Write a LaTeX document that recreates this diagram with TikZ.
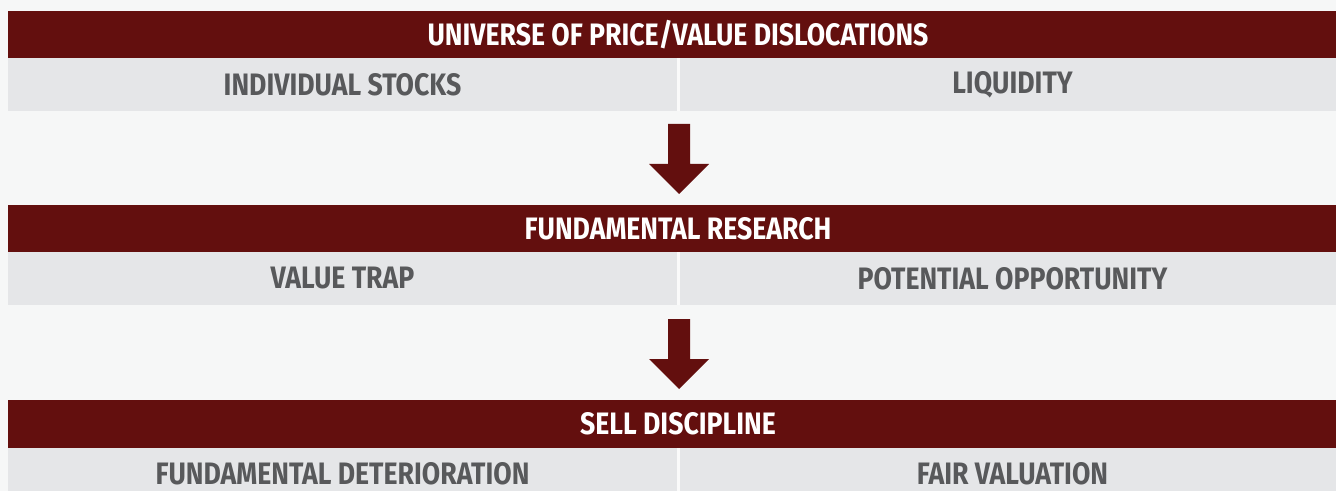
\documentclass[tikz,border=0pt]{standalone}
\usepackage{fontspec}
\setmainfont{Fira Sans}[FakeStretch=0.86]
\definecolor{bg}{HTML}{F6F7F7}
\definecolor{barred}{HTML}{630F0E}
\definecolor{rowgray}{HTML}{E5E6E8}
\definecolor{txtgray}{HTML}{58595B}
\begin{document}
\begin{tikzpicture}[x=0.5pt,y=-0.5pt,
  hdr/.style={font=\fontsize{15.5}{18}\selectfont\bfseries, text=white, inner sep=0pt},
  cell/.style={font=\fontsize{15.5}{18}\selectfont\bfseries, text=txtgray, inner sep=0pt},
  blk/.style={fill=barred, draw=none}]
\fill[bg] (0,0) rectangle (1336,491);
\useasboundingbox (0,0) rectangle (1336,491);
% row 1
\fill[barred] (8,11) rectangle (1336,58.5);
\fill[rowgray] (8,58.5) rectangle (1336,111);
\fill[bg!60!white] (677,58.5) rectangle (679.5,111);
\node[hdr] (h1) at (678,35) {UNIVERSE OF PRICE/VALUE DISLOCATIONS};
\node[cell] (a1) at (342.5,84.5) {INDIVIDUAL STOCKS};
\node[cell] (b1) at (1012.5,84.5) {LIQUIDITY};
% arrow 1
\fill[blk] (668,124) -- (690,124) -- (690,164) -- (709,164) -- (679,194) -- (649,164) -- (668,164) -- cycle;
% row 2
\fill[barred] (8,205) rectangle (1336,252.5);
\fill[rowgray] (8,252.5) rectangle (1336,305);
\fill[bg!60!white] (677,252.5) rectangle (679.5,305);
\node[hdr] (h2) at (678,229) {FUNDAMENTAL RESEARCH};
\node[cell] (a2) at (342.5,278.5) {VALUE TRAP};
\node[cell] (b2) at (1012.5,278.5) {POTENTIAL OPPORTUNITY};
% arrow 2
\fill[blk] (668,319) -- (690,319) -- (690,359) -- (709,359) -- (679,389) -- (649,359) -- (668,359) -- cycle;
% row 3
\fill[barred] (8,400) rectangle (1336,447.5);
\fill[rowgray] (8,447.5) rectangle (1336,491);
\fill[bg!60!white] (677,447.5) rectangle (679.5,491);
\node[hdr] (h3) at (678,424) {SELL DISCIPLINE};
\node[cell] (a3) at (342.5,473.5) {FUNDAMENTAL DETERIORATION};
\node[cell] (b3) at (1012.5,473.5) {FAIR VALUATION};
\end{tikzpicture}
\end{document}
